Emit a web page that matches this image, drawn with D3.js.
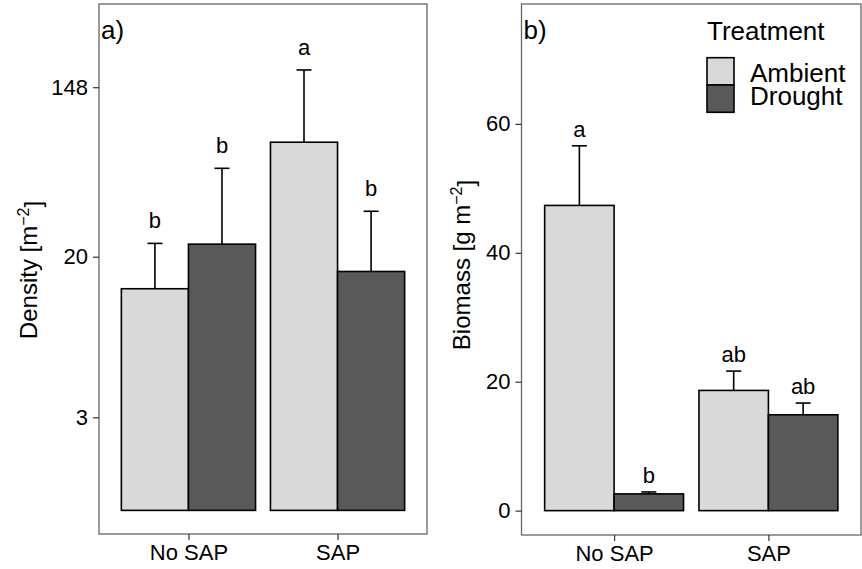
<!DOCTYPE html>
<html>
<head>
<meta charset="utf-8">
<script src="https://cdn.jsdelivr.net/npm/d3@7"></script>
<style>
  body { margin: 0; background: #fff; }
  svg { display: block; font-family: "Liberation Sans", Arial, sans-serif; }
</style>
</head>
<body>
<div id="chart"></div>
<script>
// Data
const categories = ['No SAP', 'SAP'];
const treatments = ['Ambient', 'Drought'];

const densityAmbient = [13.7, 77.3];
const densityAmbientSE = [9.7, 104.2];
const densityDrought = [23.2, 16.8];
const densityDroughtSE = [33.6, 17.4];
const densityAmbientLetters = ['b', 'a'];
const densityDroughtLetters = ['b', 'b'];
const densityTicks = [3, 20, 148];

const biomassAmbient = [47.35, 18.65];
const biomassAmbientSE = [9.25, 3.0];
const biomassDrought = [2.6, 14.87];
const biomassDroughtSE = [0.3, 1.82];
const biomassAmbientLetters = ['a', 'ab'];
const biomassDroughtLetters = ['b', 'ab'];
const biomassTicks = [0, 20, 40, 60];

const fillColors = { Ambient: '#d9d9d9', Drought: '#595959' };

const svg = d3.select('#chart')
    .append('svg')
    .attr('width', 862)
    .attr('height', 569);

function buildRows(amb, ambSE, ambL, dr, drSE, drL) {
    const rows = [];
    categories.forEach((c, i) => {
        rows.push({ cat: c, trt: 'Ambient', mean: amb[i], se: ambSE[i], letter: ambL[i] });
        rows.push({ cat: c, trt: 'Drought', mean: dr[i], se: drSE[i], letter: drL[i] });
    });
    return rows;
}

function drawPanel(p) {
    const g = svg.append('g');

    const x = d3.scalePoint().domain(categories).range([p.left, p.right]).padding(0.6);
    const step = x.step();
    const barW = step * 0.45;
    const xOff = { Ambient: -barW, Drought: 0 };

    const y = p.yScale;

    // panel frame
    g.append('rect')
        .attr('x', p.left).attr('y', p.top)
        .attr('width', p.right - p.left).attr('height', p.bottom - p.top)
        .attr('fill', 'none')
        .attr('stroke', '#666')
        .attr('stroke-width', 1.3);

    // axes
    const yAxis = g.append('g')
        .attr('transform', `translate(${p.left},0)`)
        .call(d3.axisLeft(y).tickValues(p.ticks).tickFormat(d3.format('d')).tickSize(6).tickPadding(5));
    const xAxis = g.append('g')
        .attr('transform', `translate(0,${p.bottom})`)
        .call(d3.axisBottom(x).tickSize(6).tickPadding(4));

    [yAxis, xAxis].forEach(a => {
        a.select('.domain').remove();
        a.selectAll('line').attr('stroke', '#333').attr('stroke-width', 1.2);
        a.selectAll('text').attr('fill', '#000').style('font-size', '22px');
    });

    // bars
    g.selectAll('.bar')
        .data(p.rows)
        .join('rect')
        .attr('class', 'bar')
        .attr('x', d => x(d.cat) + xOff[d.trt])
        .attr('width', barW)
        .attr('y', d => y(d.mean))
        .attr('height', d => y(p.base) - y(d.mean))
        .attr('fill', d => fillColors[d.trt])
        .attr('stroke', '#000')
        .attr('stroke-width', 1.6);

    // upper error bars
    const eb = g.selectAll('.err')
        .data(p.rows)
        .join('g')
        .attr('class', 'err')
        .attr('stroke', '#000')
        .attr('stroke-width', 1.6);
    eb.append('line')
        .attr('x1', d => x(d.cat) + xOff[d.trt] + barW / 2)
        .attr('x2', d => x(d.cat) + xOff[d.trt] + barW / 2)
        .attr('y1', d => y(d.mean))
        .attr('y2', d => y(d.mean + d.se));
    eb.append('line')
        .attr('x1', d => x(d.cat) + xOff[d.trt] + barW / 2 - 7.5)
        .attr('x2', d => x(d.cat) + xOff[d.trt] + barW / 2 + 7.5)
        .attr('y1', d => y(d.mean + d.se))
        .attr('y2', d => y(d.mean + d.se));

    // significance letters
    g.selectAll('.letter')
        .data(p.rows)
        .join('text')
        .attr('class', 'letter')
        .attr('x', d => x(d.cat) + xOff[d.trt] + barW / 2)
        .attr('y', d => y(d.mean + d.se) - p.letterGap)
        .attr('text-anchor', 'middle')
        .style('font-size', '22px')
        .text(d => d.letter);

    // panel tag
    g.append('text')
        .attr('x', p.left + 2)
        .attr('y', 39)
        .style('font-size', '26px')
        .text(p.tag);

    // y title with superscript
    const t = g.append('text')
        .attr('transform', `translate(${p.titleX},${p.titleY}) rotate(-90)`)
        .attr('text-anchor', 'middle')
        .style('font-size', '24px');
    t.append('tspan').text(p.title);
    t.append('tspan').attr('dy', '-0.5em').style('font-size', '16px').text('\u22122');
    t.append('tspan').attr('dy', '0.5em').text(']');
}

// a) density, log scale
drawPanel({
    tag: 'a)',
    left: 99, right: 427, top: 4, bottom: 534,
    yScale: d3.scaleLog().domain([Math.exp(-0.279), Math.exp(5.98)]).range([534, 4]),
    base: 1,
    ticks: densityTicks,
    rows: buildRows(densityAmbient, densityAmbientSE, densityAmbientLetters,
                    densityDrought, densityDroughtSE, densityDroughtLetters),
    letterGap: 15,
    title: 'Density [m',
    titleX: 37, titleY: 270
});

// b) biomass, linear scale
drawPanel({
    tag: 'b)',
    left: 521.5, right: 861, top: 4, bottom: 535,
    yScale: d3.scaleLinear().domain([-3.78, 78.6]).range([535, 4]),
    base: 0,
    ticks: biomassTicks,
    rows: buildRows(biomassAmbient, biomassAmbientSE, biomassAmbientLetters,
                    biomassDrought, biomassDroughtSE, biomassDroughtLetters),
    letterGap: 9,
    title: 'Biomass [g m',
    titleX: 470, titleY: 265
});

// legend
const legend = svg.append('g').attr('transform', 'translate(707,0)');
legend.append('text')
    .attr('x', 0).attr('y', 40)
    .style('font-size', '26px')
    .text('Treatment');
treatments.forEach((tr, i) => {
    legend.append('rect')
        .attr('x', 0).attr('y', 57.7 + i * 27.3)
        .attr('width', 27).attr('height', 27.3)
        .attr('fill', fillColors[tr])
        .attr('stroke', '#000')
        .attr('stroke-width', 1.6);
    legend.append('text')
        .attr('x', 43).attr('y', 81.7 + i * 23.5)
        .style('font-size', '26px')
        .text(tr);
});
</script>
</body>
</html>
